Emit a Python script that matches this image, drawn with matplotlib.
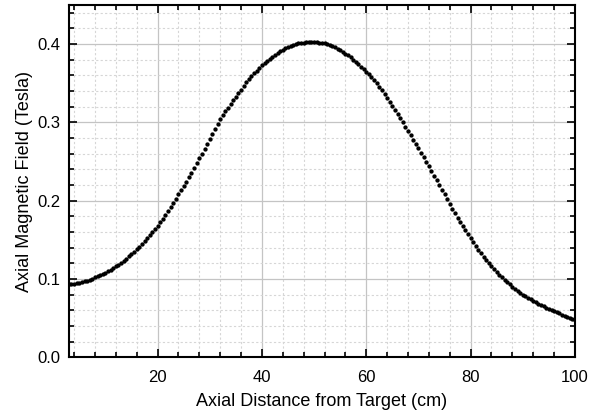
import numpy as np
import matplotlib.pyplot as plt
from matplotlib.ticker import MultipleLocator, FormatStrFormatter

# axial position (cm), one reading every 0.5 cm from 3 to 100
distance = np.arange(3.0, 100.5, 0.5)

# axial magnetic field (T)
field = [
    0.093, 0.0933, 0.094, 0.0945, 0.095, 0.096, 0.097, 0.098, 0.099, 0.1005,
    0.102, 0.1035, 0.105, 0.1065, 0.108, 0.110, 0.112, 0.114, 0.116, 0.1185,
    0.121, 0.1235, 0.126, 0.129, 0.132, 0.135, 0.138, 0.1415, 0.145, 0.1485,
    0.152, 0.156, 0.160, 0.164, 0.168, 0.1725, 0.177, 0.182, 0.187, 0.192,
    0.197, 0.2025, 0.208, 0.2135, 0.219, 0.2245, 0.230, 0.236, 0.242, 0.248,
    0.254, 0.260, 0.266, 0.2725, 0.279, 0.285, 0.291, 0.2975, 0.304, 0.309,
    0.314, 0.319, 0.324, 0.3285, 0.333, 0.3375, 0.342, 0.3465, 0.351, 0.355,
    0.359, 0.3625, 0.366, 0.3695, 0.373, 0.376, 0.379, 0.3815, 0.384, 0.3865,
    0.389, 0.391, 0.393, 0.3945, 0.396, 0.3975, 0.399, 0.400, 0.401, 0.4015,
    0.402, 0.4025, 0.403, 0.403, 0.403, 0.4025, 0.402, 0.4015, 0.401, 0.400,
    0.399, 0.3975, 0.396, 0.394, 0.392, 0.390, 0.388, 0.3855, 0.383, 0.380,
    0.377, 0.374, 0.371, 0.368, 0.365, 0.3615, 0.358, 0.354, 0.350, 0.3455,
    0.341, 0.336, 0.331, 0.326, 0.321, 0.316, 0.311, 0.3055, 0.300, 0.2945,
    0.289, 0.2835, 0.278, 0.2725, 0.267, 0.2615, 0.256, 0.250, 0.244, 0.238,
    0.232, 0.226, 0.220, 0.214, 0.208, 0.202, 0.196, 0.190, 0.184, 0.1785,
    0.173, 0.1675, 0.162, 0.157, 0.152, 0.147, 0.142, 0.1375, 0.133, 0.1285,
    0.124, 0.120, 0.116, 0.1125, 0.109, 0.1055, 0.102, 0.099, 0.096, 0.093,
    0.090, 0.0875, 0.085, 0.0825, 0.080, 0.078, 0.076, 0.074, 0.072, 0.070,
    0.068, 0.0665, 0.065, 0.0635, 0.062, 0.0605, 0.059, 0.0575, 0.056, 0.0545,
    0.053, 0.0515, 0.050, 0.0485, 0.047,
]

plt.rcParams['font.family'] = ['Liberation Sans', 'DejaVu Sans']

fig = plt.figure(figsize=(5.89, 4.19), dpi=100)
ax = fig.add_axes([0.1163, 0.1473, 0.8599, 0.8408])

ax.plot(distance, field, linestyle='none', marker='o', markersize=2.1,
        color='black', zorder=3)

ax.set_xlim(2.93, 100)
ax.set_ylim(0, 0.45)
ax.xaxis.set_major_locator(MultipleLocator(20))
ax.xaxis.set_minor_locator(MultipleLocator(4))
ax.yaxis.set_major_locator(MultipleLocator(0.1))
ax.yaxis.set_minor_locator(MultipleLocator(0.02))
ax.yaxis.set_major_formatter(FormatStrFormatter('%.1f'))

ax.grid(which='major', color='#c4c4c4', linewidth=0.9, linestyle='-')
ax.grid(which='minor', color='#d6d6d6', linewidth=0.8, linestyle=(0, (2, 2)))
ax.set_axisbelow(True)

ax.tick_params(which='both', direction='in', top=True, right=True,
               labelsize=12, colors='black', width=1.2)
ax.tick_params(which='major', length=6, pad=6)
ax.tick_params(axis='x', which='major', pad=9)
ax.tick_params(which='minor', length=3.5)
for s in ax.spines.values():
    s.set_linewidth(1.5)

ax.set_xlabel('Axial Distance from Target (cm)', fontsize=13, labelpad=6)
ax.set_ylabel('Axial Magnetic Field (Tesla)', fontsize=13, labelpad=3)

fig.savefig('out.png', dpi=100)
